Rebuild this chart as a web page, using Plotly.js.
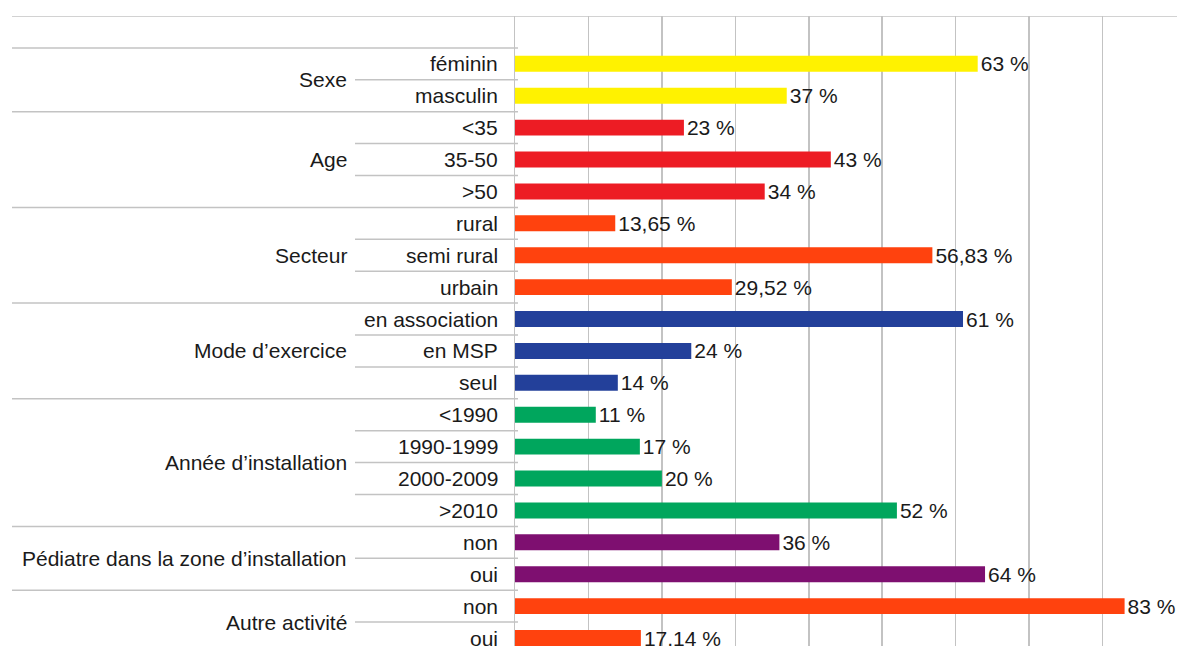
<!DOCTYPE html>
<html>
<head>
<meta charset="utf-8">
<script src="https://cdn.plot.ly/plotly-3.0.1.min.js"></script>
<style>html,body{margin:0;padding:0;background:#fff;}#chart{width:1179px;height:646px;}</style>
</head>
<body>
<div id="chart"></div>
<script>
// Data
var groups = ["Sexe", "Age", "Secteur", "Mode d’exercice", "Année d’installation", "Pédiatre dans la zone d’installation", "Autre activité"];
var groupSizes = [2, 3, 3, 3, 4, 2, 2];
var groupColors = ["#FFF200", "#ED1C24", "#FF420E", "#23409A", "#00A65D", "#7E0F70", "#FF420E"];
var subcategories = ["féminin", "masculin", "<35", "35-50", ">50", "rural", "semi rural", "urbain",
  "en association", "en MSP", "seul", "<1990", "1990-1999", "2000-2009", ">2010", "non", "oui", "non", "oui"];
var values = [63, 37, 23, 43, 34, 13.65, 56.83, 29.52, 61, 24, 14, 11, 17, 20, 52, 36, 64, 83, 17.14];

// Build
var ypos = values.map(function (v, i) { return i; });
var colors = [], groupStart = [];
var idx = 0;
groupSizes.forEach(function (n, g) {
  groupStart.push(idx);
  for (var k = 0; k < n; k++) { colors.push(groupColors[g]); }
  idx += n;
});
var texts = values.map(function (v) { return String(v).replace('.', ',') + ' %'; });

var FONT = 'Liberation Sans, Arial, sans-serif';
var LINE = '#c3c3c3';
var FS = 21;

var annotations = [];
subcategories.forEach(function (s, i) {
  annotations.push({
    xref: 'paper', yref: 'y', x: 0, y: i, xanchor: 'right', yanchor: 'middle',
    xshift: -15, text: s.replace(/</g, '&lt;').replace(/>/g, '&gt;'), showarrow: false,
    font: {family: FONT, size: FS, color: '#1a1a1a'}
  });
});
groups.forEach(function (g, gi) {
  var c = groupStart[gi] + (groupSizes[gi] - 1) / 2;
  annotations.push({
    xref: 'paper', yref: 'y', x: 0, y: c, xanchor: 'right', yanchor: 'middle',
    xshift: -166, text: g, showarrow: false,
    font: {family: FONT, size: FS, color: '#1a1a1a'}
  });
});

var shapes = [];
function hline(y, px0, px1) {
  shapes.push({type: 'line', xref: 'paper', yref: 'y', xsizemode: 'pixel', xanchor: 0,
    x0: px0, x1: px1, y0: y, y1: y, line: {color: LINE, width: 1.5}, layer: 'below'});
}
// top frame line
hline(-1.5, -503, 662);
groupStart.forEach(function (s, gi) {
  hline(s - 0.5, -503, 3);
  for (var k = 1; k < groupSizes[gi]; k++) { hline(s + k - 0.5, -160, 3); }
});

var trace = {
  type: 'bar', orientation: 'h', x: values, y: ypos,
  marker: {color: colors, line: {width: 0}},
  width: 0.5,
  text: texts, textposition: 'outside', cliponaxis: false, constraintext: 'none',
  textfont: {family: FONT, size: FS, color: '#1a1a1a'},
  hoverinfo: 'none'
};

var layout = {
  width: 1179, height: 646,
  margin: {l: 515, r: 3, t: 16, b: 0, pad: 0},
  paper_bgcolor: '#fff', plot_bgcolor: '#fff',
  showlegend: false,
  font: {family: FONT, size: FS, color: '#1a1a1a'},
  xaxis: {range: [0, 90], dtick: 10, tick0: 0, showgrid: true, gridcolor: LINE, gridwidth: 1.5,
    zeroline: false, showticklabels: false, ticks: '', showline: false, fixedrange: true},
  yaxis: {range: [18.25, -1.5], showgrid: false, zeroline: false, showticklabels: false,
    ticks: '', showline: true, linecolor: LINE, linewidth: 1.5, fixedrange: true},
  annotations: annotations,
  shapes: shapes
};

Plotly.newPlot('chart', [trace], layout, {displayModeBar: false, staticPlot: true});
</script>
</body>
</html>
